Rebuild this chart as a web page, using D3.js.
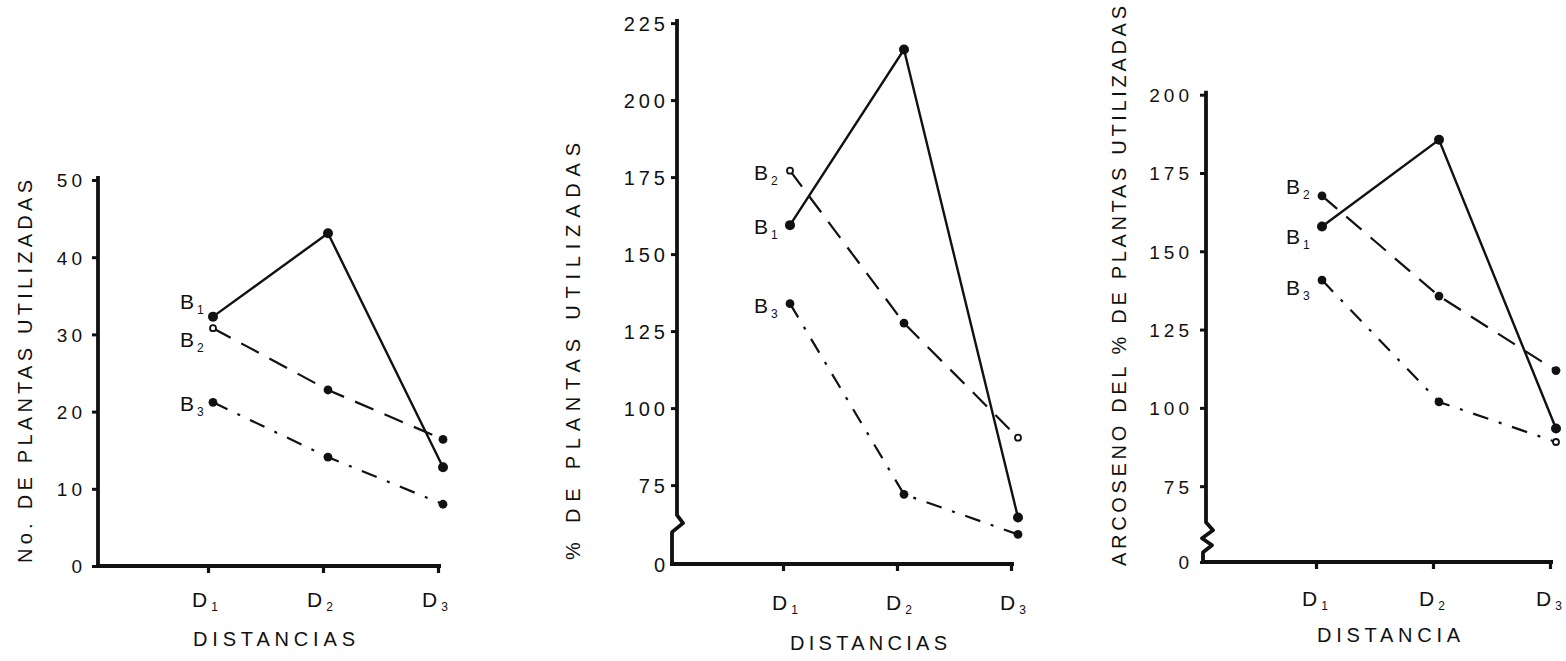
<!DOCTYPE html>
<html>
<head>
<meta charset="utf-8">
<script src="https://cdn.jsdelivr.net/npm/d3@7"></script>
<style>
    body { margin: 0; background: #fff; }
    svg { display: block; }
    text { font-family: "Liberation Sans", Arial, sans-serif; fill: #111; }
</style>
</head>
<body>
<svg id="chart" width="1566" height="661"></svg>
<script>
"use strict";

// categories
var distancias = ["D1", "D2", "D3"]
var bloques = ["B1", "B2", "B3"]

// panel 1: No. de plantas utilizadas
var plantasB1 = [32.3, 43.1, 12.8]
var plantasB2 = [30.8, 22.8, 16.4]
var plantasB3 = [21.2, 14.1, 8.0]
var plantasTicks = [0, 10, 20, 30, 40, 50]

// panel 2: % de plantas utilizadas
var porcB1 = [159.4, 216.4, 64.5]
var porcB2 = [177.1, 127.6, 90.4]
var porcB3 = [133.9, 72.0, 59.0]
var porcTicks = [0, 75, 100, 125, 150, 175, 200, 225]

// panel 3: arcoseno del % de plantas utilizadas
var arcB1 = [157.9, 185.6, 93.4]
var arcB2 = [167.7, 135.7, 111.9]
var arcB3 = [140.8, 101.9, 89.1]
var arcTicks = [0, 75, 100, 125, 150, 175, 200]

var svg = d3.select('#chart')
var ink = '#111'

// line style per bloque: solid, dashed, dash-dot
var dashes = [null, '20,12', '16,11,3,11']

function drawPanel(p) {
    var g = svg.append('g')

    var y = d3.scaleLinear().domain(p.yDomain).range(p.yRange)
    var x = d3.scalePoint().domain(distancias).range(p.xRange)

    // y axis ticks and labels
    var gy = g.append('g')
        .attr('transform', 'translate(' + p.axisX + ',0)')
        .call(d3.axisLeft(y).tickValues(p.ticks).tickSize(6).tickSizeOuter(0).tickPadding(p.tickPad))
    gy.select('.domain').remove()
    gy.selectAll('.tick line').attr('stroke', ink).attr('stroke-width', 3)
    gy.selectAll('.tick text')
        .attr('font-size', p.tickFont)
        .attr('letter-spacing', 4)
        .attr('dy', '0.36em')

    // y axis spine, with the break symbol when the scale is cut
    var top = y(p.yDomain[p.yDomain.length - 1]) - 4
    var pts = [[p.axisX, top]]
    if (p.breakAt) {
        var by = y(p.breakAt)
        p.zigzag.forEach(function (d) { pts.push([p.axisX + d[0], by + d[1]]) })
        var last = pts[pts.length - 1]
        pts.push([last[0], y(0)])
    } else {
        pts.push([p.axisX, y(0)])
    }
    g.append('path')
        .attr('d', d3.line()(pts))
        .attr('fill', 'none')
        .attr('stroke', ink)
        .attr('stroke-width', 3.8)
        .attr('stroke-linejoin', 'round')

    // x axis
    var x0 = pts[pts.length - 1][0]
    g.append('line')
        .attr('x1', x0 - 2).attr('x2', x('D3') + 3)
        .attr('y1', y(0)).attr('y2', y(0))
        .attr('stroke', ink).attr('stroke-width', 3.8)

    var gx = g.append('g')
        .attr('transform', 'translate(0,' + y(0) + ')')
        .call(d3.axisBottom(x).tickSize(7).tickSizeOuter(0).tickFormat(''))
    gx.select('.domain').remove()
    gx.selectAll('.tick line').attr('stroke', ink).attr('stroke-width', 3.2)

    // D labels with subscript
    distancias.forEach(function (d) {
        var t = g.append('text')
            .attr('x', x(d) + p.dLabelDx)
            .attr('y', p.dLabelY)
            .attr('font-size', 21)
        t.append('tspan').text(d[0])
        t.append('tspan').text(d.slice(1)).attr('font-size', 12).attr('dx', 4).attr('dy', 4)
    })

    // x axis title
    g.append('text')
        .text(p.xTitle)
        .attr('x', p.xTitlePos[0])
        .attr('y', p.xTitlePos[1])
        .attr('font-size', 20)
        .attr('textLength', p.xTitleLen)
        .attr('lengthAdjust', 'spacing')

    // y axis title
    g.append('text')
        .text(p.yTitle)
        .attr('transform', 'translate(' + p.yTitlePos[0] + ',' + p.yTitlePos[1] + ') rotate(-90)')
        .attr('font-size', 20)
        .attr('textLength', p.yTitleLen)
        .attr('lengthAdjust', 'spacing')

    // series lines and markers
    p.series.forEach(function (values, i) {
        var line = d3.line()
            .x(function (v, j) { return x(distancias[j]) + p.shift })
            .y(function (v) { return y(v) })
        g.append('path')
            .attr('d', line(values))
            .attr('fill', 'none')
            .attr('stroke', ink)
            .attr('stroke-width', i === 0 ? 2.4 : 2.2)
            .attr('stroke-dasharray', dashes[i])

        values.forEach(function (v, j) {
            var open = p.open.indexOf(bloques[i] + distancias[j]) >= 0
            g.append('circle')
                .attr('cx', x(distancias[j]) + p.shift)
                .attr('cy', y(v))
                .attr('r', open ? 3 : (i === 0 ? 5 : 4.4))
                .attr('fill', open ? '#fff' : ink)
                .attr('stroke', ink)
                .attr('stroke-width', open ? 1.8 : 0)
        })

        // B label with subscript, next to the first point
        var t = g.append('text')
            .attr('x', p.bLabelX)
            .attr('y', y(values[0]) + p.bLabelDy[i])
            .attr('font-size', 21)
        t.append('tspan').text(bloques[i][0])
        t.append('tspan').text(bloques[i].slice(1)).attr('font-size', 12).attr('dx', 3).attr('dy', 5)
    })
}

drawPanel({
    series: [plantasB1, plantasB2, plantasB3],
    ticks: plantasTicks,
    yDomain: [0, 50],
    yRange: [566, 180],
    xRange: [208, 438],
    axisX: 98,
    tickPad: 6,
    tickFont: 19,
    shift: 5,
    open: ['B2D1'],
    bLabelX: 180,
    bLabelDy: [-8, 19, 9],
    dLabelDx: -16,
    dLabelY: 607,
    xTitle: 'DISTANCIAS',
    xTitlePos: [193, 646],
    xTitleLen: 162,
    yTitle: 'No. DE PLANTAS UTILIZADAS',
    yTitlePos: [32, 563],
    yTitleLen: 383
})

drawPanel({
    series: [porcB1, porcB2, porcB3],
    ticks: porcTicks,
    yDomain: [0, 55, 225],
    yRange: [564, 546.7, 23.1],
    xRange: [783, 1011],
    axisX: 677,
    tickPad: 2,
    tickFont: 20,
    shift: 7,
    open: ['B2D1', 'B2D3'],
    breakAt: 62,
    zigzag: [[0, -10], [6, -2], [-5, 7]],
    bLabelX: 754,
    bLabelDy: [9, 9, 9],
    dLabelDx: -11,
    dLabelY: 610,
    xTitle: 'DISTANCIAS',
    xTitlePos: [790, 650],
    xTitleLen: 157,
    yTitle: '% DE PLANTAS UTILIZADAS',
    yTitlePos: [580, 560],
    yTitleLen: 417
})

drawPanel({
    series: [arcB1, arcB2, arcB3],
    ticks: arcTicks,
    yDomain: [0, 55, 200],
    yRange: [562, 548.8, 94.7],
    xRange: [1316, 1550],
    axisX: 1206,
    tickPad: 7,
    tickFont: 19,
    shift: 6,
    open: ['B3D3'],
    breakAt: 60.3,
    zigzag: [[0, -10], [7, -2], [-4, 6], [6, 13], [-3, 20]],
    bLabelX: 1286,
    bLabelDy: [17, -2, 15],
    dLabelDx: -14,
    dLabelY: 606,
    xTitle: 'DISTANCIA',
    xTitlePos: [1317, 642],
    xTitleLen: 143,
    yTitle: 'ARCOSENO DEL % DE PLANTAS UTILIZADAS',
    yTitlePos: [1126, 566],
    yTitleLen: 560
})
</script>
</body>
</html>
